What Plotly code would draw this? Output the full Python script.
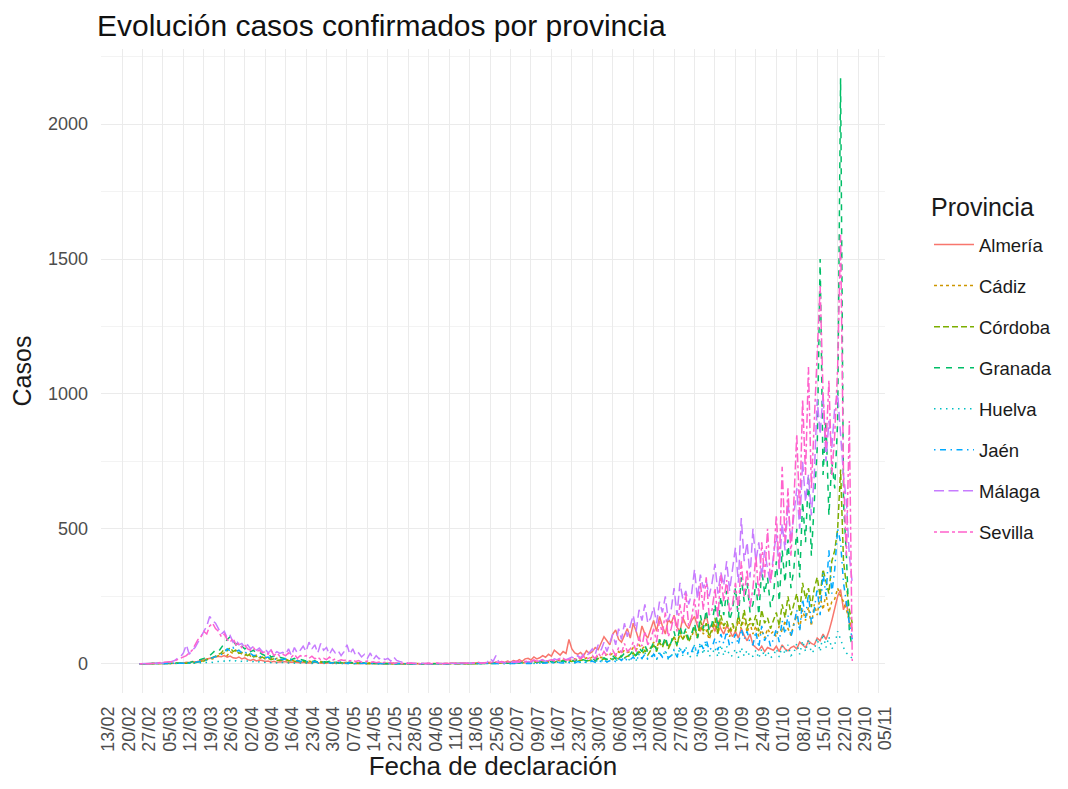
import datetime as dt
import plotly.graph_objects as go

# ---- data (daily confirmed cases, 26/02/2020 .. 27/10/2020) ----
start_date = "2020-02-26"
n_days = 245

provincias = ["Almería", "Cádiz", "Córdoba", "Granada", "Huelva", "Jaén", "Málaga", "Sevilla"]

almeria = [
    0, 0, 0, 0, 0, 0, 0,
    0, 0, 0, 1, 0, 2, 1,
    2, 3, 5, 4, 8, 6, 10,
    12, 15, 18, 20, 22, 25, 28,
    26, 30, 24, 28, 22, 20, 25,
    18, 22, 15, 12, 16, 10, 14,
    12, 8, 10, 6, 9, 5, 7,
    6, 8, 4, 6, 5, 3, 4,
    5, 3, 4, 2, 6, 3, 2,
    3, 2, 4, 1, 3, 2, 1,
    2, 1, 3, 2, 1, 0, 2,
    1, 0, 2, 1, 0, 1, 0,
    1, 0, 0, 1, 2, 0, 1,
    0, 1, 0, 0, 2, 1, 0,
    1, 0, 2, 0, 1, 0, 1,
    0, 1, 3, 1, 0, 2, 1,
    2, 1, 0, 3, 2, 1, 4,
    3, 5, 2, 6, 4, 8, 5,
    10, 6, 12, 8, 15, 9, 18,
    20, 14, 25, 18, 22, 30, 24,
    35, 28, 50, 40, 32, 45, 38,
    90, 55, 40, 35, 42, 30, 48,
    38, 45, 60, 52, 75, 100, 85,
    70, 110, 125, 90, 80, 105, 130,
    95, 150, 120, 85, 140, 110, 95,
    130, 160, 120, 175, 140, 110, 165,
    150, 180, 135, 120, 170, 145, 130,
    160, 175, 140, 120, 150, 180, 130,
    145, 120, 160, 130, 110, 140, 125,
    100, 120, 95, 130, 105, 85, 110,
    70, 60, 50, 65, 45, 60, 55,
    50, 65, 45, 70, 55, 48, 60,
    65, 55, 80, 70, 60, 85, 75,
    70, 95, 85, 110, 90, 120, 160,
    210, 250, 275, 200, 230, 150, 130,
]

cadiz = [
    0, 0, 0, 0, 0, 0, 0,
    0, 0, 0, 0, 1, 0, 1,
    1, 2, 2, 4, 3, 5, 6,
    8, 12, 15, 20, 18, 25, 30,
    35, 40, 30, 45, 38, 50, 42,
    35, 30, 40, 28, 25, 32, 22,
    20, 25, 18, 22, 15, 20, 16,
    14, 18, 12, 15, 10, 13, 9,
    12, 8, 10, 7, 9, 6, 8,
    7, 5, 8, 4, 6, 3, 5,
    4, 6, 3, 5, 2, 4, 3,
    3, 2, 4, 1, 2, 3, 1,
    2, 1, 0, 2, 1, 0, 1,
    0, 1, 1, 0, 2, 0, 1,
    1, 0, 1, 2, 0, 1, 0,
    0, 1, 0, 2, 1, 0, 1,
    1, 2, 0, 1, 3, 1, 2,
    2, 1, 3, 2, 4, 2, 3,
    3, 5, 2, 4, 6, 3, 5,
    5, 4, 8, 6, 10, 7, 9,
    8, 12, 10, 15, 9, 14, 11,
    15, 12, 18, 14, 20, 16, 22,
    18, 25, 20, 30, 22, 28, 35,
    30, 40, 28, 45, 38, 50, 42,
    45, 60, 50, 70, 55, 65, 48,
    60, 80, 55, 90, 70, 85, 65,
    80, 100, 75, 110, 90, 120, 85,
    100, 130, 95, 140, 110, 125, 90,
    120, 150, 110, 160, 130, 145, 100,
    140, 120, 160, 130, 170, 115, 150,
    110, 140, 100, 125, 95, 130, 110,
    120, 100, 140, 115, 160, 130, 105,
    150, 180, 130, 200, 160, 210, 140,
    220, 180, 250, 200, 260, 190, 230,
    240, 280, 250, 230, 200, 160, 120,
]

cordoba = [
    0, 0, 0, 0, 0, 0, 0,
    0, 0, 1, 0, 0, 1, 0,
    1, 1, 2, 3, 2, 4, 5,
    8, 10, 14, 18, 22, 28, 35,
    40, 55, 48, 60, 45, 52, 38,
    42, 35, 30, 38, 25, 28, 22,
    25, 18, 20, 15, 18, 12, 14,
    12, 15, 10, 12, 8, 10, 7,
    9, 6, 8, 5, 7, 4, 6,
    5, 4, 6, 3, 5, 2, 4,
    3, 2, 4, 2, 1, 3, 2,
    1, 2, 0, 1, 2, 0, 1,
    0, 1, 0, 1, 0, 0, 1,
    0, 0, 1, 0, 1, 0, 0,
    1, 0, 0, 1, 0, 2, 0,
    0, 1, 2, 0, 1, 0, 1,
    1, 0, 2, 1, 0, 3, 1,
    2, 1, 3, 2, 1, 4, 2,
    3, 2, 5, 3, 6, 4, 3,
    5, 4, 7, 5, 8, 6, 5,
    6, 9, 5, 10, 8, 12, 7,
    10, 8, 14, 9, 12, 15, 11,
    12, 16, 10, 20, 14, 18, 15,
    20, 15, 25, 18, 30, 22, 28,
    30, 40, 25, 45, 35, 50, 32,
    50, 70, 45, 80, 60, 90, 55,
    75, 100, 65, 120, 90, 110, 80,
    110, 140, 95, 160, 120, 150, 100,
    130, 170, 110, 180, 140, 160, 120,
    150, 120, 180, 140, 200, 130, 170,
    140, 180, 120, 200, 150, 170, 130,
    160, 190, 140, 220, 170, 250, 180,
    220, 260, 190, 300, 240, 280, 210,
    280, 320, 250, 350, 300, 260, 380,
    420, 500, 720, 380, 300, 200, 150,
]

granada = [
    0, 0, 0, 0, 0, 0, 0,
    0, 0, 0, 1, 0, 1, 2,
    2, 3, 5, 4, 8, 10, 12,
    15, 20, 25, 30, 40, 50, 45,
    60, 75, 90, 100, 85, 70, 80,
    65, 55, 60, 45, 50, 38, 42,
    35, 30, 38, 25, 28, 20, 24,
    22, 18, 25, 15, 20, 12, 16,
    14, 10, 12, 8, 11, 6, 9,
    8, 6, 9, 5, 7, 4, 6,
    5, 4, 6, 3, 4, 2, 3,
    3, 2, 1, 2, 1, 0, 1,
    1, 0, 1, 0, 0, 1, 0,
    0, 1, 0, 0, 1, 0, 0,
    0, 0, 1, 0, 0, 1, 0,
    1, 0, 0, 1, 0, 0, 1,
    0, 1, 0, 2, 1, 0, 1,
    1, 2, 0, 1, 3, 1, 2,
    2, 3, 1, 4, 2, 5, 3,
    4, 3, 6, 4, 8, 5, 7,
    6, 9, 5, 12, 8, 10, 7,
    10, 14, 8, 18, 12, 15, 10,
    15, 20, 12, 25, 18, 22, 16,
    22, 30, 18, 35, 25, 40, 28,
    35, 50, 30, 60, 45, 70, 40,
    55, 80, 50, 90, 65, 100, 60,
    80, 120, 70, 140, 100, 130, 90,
    110, 150, 95, 180, 130, 200, 120,
    150, 220, 130, 250, 180, 270, 160,
    200, 280, 170, 320, 230, 300, 190,
    220, 300, 180, 350, 260, 320, 210,
    250, 380, 230, 420, 300, 460, 280,
    350, 500, 320, 600, 450, 700, 400,
    600, 800, 1500, 700, 900, 550, 750,
    650, 900, 2170, 600, 400, 120, 60,
]

huelva = [
    0, 0, 0, 0, 0, 0, 0,
    0, 0, 0, 0, 0, 1, 0,
    0, 1, 1, 2, 1, 2, 3,
    3, 4, 5, 6, 5, 8, 7,
    8, 10, 7, 12, 9, 11, 8,
    9, 7, 10, 6, 8, 5, 7,
    6, 5, 7, 4, 6, 3, 5,
    4, 5, 3, 4, 2, 3, 2,
    3, 2, 3, 1, 2, 1, 2,
    1, 2, 1, 0, 1, 1, 0,
    1, 0, 1, 0, 0, 1, 0,
    0, 0, 1, 0, 0, 0, 1,
    0, 0, 0, 0, 0, 0, 0,
    0, 0, 0, 1, 0, 0, 0,
    0, 1, 0, 0, 0, 1, 0,
    0, 0, 1, 0, 0, 0, 1,
    0, 1, 0, 1, 0, 0, 1,
    1, 0, 2, 1, 0, 1, 2,
    1, 2, 1, 3, 2, 1, 2,
    2, 3, 1, 4, 2, 3, 5,
    3, 5, 2, 6, 4, 7, 3,
    5, 8, 4, 10, 6, 9, 5,
    8, 12, 6, 15, 10, 14, 7,
    12, 18, 8, 22, 14, 25, 10,
    18, 30, 12, 35, 20, 40, 15,
    22, 40, 15, 45, 25, 50, 18,
    25, 55, 20, 60, 30, 65, 22,
    30, 70, 25, 75, 35, 80, 28,
    35, 60, 25, 70, 30, 65, 28,
    30, 55, 22, 60, 28, 50, 25,
    28, 50, 20, 55, 25, 45, 22,
    30, 55, 25, 65, 35, 70, 30,
    40, 75, 35, 85, 45, 90, 40,
    50, 95, 45, 110, 60, 100, 55,
    70, 120, 90, 60, 40, 30, 20,
]

jaen = [
    0, 0, 0, 0, 0, 0, 0,
    0, 0, 0, 0, 1, 0, 1,
    1, 2, 2, 3, 4, 5, 6,
    8, 10, 14, 18, 20, 25, 30,
    35, 40, 55, 48, 60, 45, 50,
    40, 45, 35, 38, 30, 32, 25,
    28, 22, 25, 18, 20, 15, 17,
    15, 18, 12, 14, 10, 12, 8,
    10, 7, 9, 6, 8, 5, 7,
    6, 4, 5, 3, 5, 2, 4,
    3, 2, 4, 2, 1, 3, 1,
    2, 1, 0, 1, 1, 0, 1,
    0, 1, 0, 0, 1, 0, 0,
    0, 0, 1, 0, 0, 0, 1,
    0, 1, 0, 0, 1, 0, 0,
    0, 0, 1, 0, 0, 1, 0,
    1, 0, 0, 1, 0, 1, 0,
    0, 1, 1, 0, 2, 1, 0,
    1, 0, 2, 1, 1, 3, 1,
    2, 1, 3, 2, 4, 2, 3,
    3, 5, 2, 6, 4, 3, 5,
    4, 6, 3, 8, 5, 7, 4,
    6, 10, 5, 12, 8, 14, 7,
    10, 15, 8, 20, 12, 25, 10,
    15, 25, 12, 30, 20, 35, 18,
    20, 35, 15, 40, 25, 45, 22,
    30, 50, 25, 60, 40, 55, 35,
    45, 70, 35, 80, 55, 90, 50,
    60, 95, 50, 110, 75, 120, 65,
    80, 110, 70, 130, 90, 120, 75,
    70, 120, 60, 140, 85, 110, 65,
    90, 130, 80, 160, 110, 180, 100,
    140, 200, 120, 240, 170, 260, 150,
    200, 280, 180, 340, 250, 420, 260,
    350, 500, 450, 300, 220, 150, 90,
]

malaga = [
    0, 0, 0, 0, 1, 0, 1,
    2, 3, 5, 4, 8, 12, 20,
    25, 40, 70, 35, 50, 60, 80,
    100, 120, 140, 175, 160, 150, 130,
    110, 120, 95, 105, 80, 90, 70,
    75, 60, 70, 55, 65, 50, 58,
    45, 55, 40, 50, 35, 45, 38,
    42, 35, 55, 30, 60, 40, 50,
    65, 45, 80, 55, 70, 40, 75,
    50, 60, 35, 55, 40, 48, 30,
    45, 70, 35, 55, 30, 40, 25,
    35, 20, 40, 15, 30, 18, 25,
    15, 20, 10, 25, 12, 8, 5,
    4, 3, 2, 3, 1, 2, 1,
    1, 2, 0, 1, 2, 1, 0,
    1, 0, 2, 1, 0, 1, 2,
    2, 1, 3, 1, 2, 4, 2,
    5, 20, 8, 30, 6, 4, 3,
    5, 3, 8, 4, 6, 10, 5,
    8, 6, 12, 7, 10, 15, 9,
    12, 10, 18, 14, 20, 16, 15,
    20, 25, 18, 30, 22, 35, 28,
    40, 55, 35, 70, 50, 80, 45,
    80, 110, 70, 130, 90, 150, 100,
    140, 180, 120, 200, 160, 220, 150,
    170, 210, 150, 230, 190, 250, 160,
    200, 280, 180, 300, 240, 270, 220,
    260, 350, 240, 330, 280, 310, 250,
    300, 370, 260, 340, 290, 380, 270,
    350, 430, 300, 540, 380, 450, 320,
    500, 380, 450, 320, 420, 350, 300,
    400, 480, 350, 520, 420, 600, 450,
    550, 650, 500, 750, 600, 700, 550,
    700, 980, 850, 1000, 750, 900, 800,
    950, 1000, 850, 700, 600, 400, 300,
]

sevilla = [
    0, 1, 0, 0, 1, 2, 1,
    2, 3, 4, 6, 8, 10, 15,
    20, 25, 30, 40, 50, 70, 90,
    100, 120, 110, 140, 150, 130, 120,
    100, 110, 90, 80, 95, 70, 75,
    60, 70, 55, 50, 60, 45, 50,
    40, 45, 35, 50, 30, 40, 28,
    35, 30, 40, 25, 35, 20, 30,
    25, 30, 20, 28, 18, 25, 15,
    20, 15, 25, 12, 18, 10, 15,
    12, 15, 10, 14, 8, 12, 6,
    8, 10, 5, 7, 4, 6, 3,
    5, 3, 4, 2, 3, 1, 2,
    2, 1, 3, 1, 2, 0, 1,
    1, 2, 0, 1, 3, 1, 2,
    2, 1, 3, 2, 1, 3, 2,
    3, 2, 4, 3, 5, 2, 4,
    4, 3, 5, 6, 4, 8, 5,
    6, 8, 5, 10, 7, 12, 8,
    10, 8, 14, 9, 15, 12, 10,
    12, 15, 10, 18, 14, 20, 13,
    15, 20, 14, 25, 18, 28, 16,
    22, 30, 18, 40, 25, 45, 28,
    35, 50, 30, 60, 40, 75, 45,
    55, 80, 45, 100, 65, 120, 70,
    90, 130, 80, 160, 110, 190, 100,
    130, 180, 120, 220, 150, 260, 140,
    170, 240, 150, 300, 200, 320, 180,
    200, 280, 170, 330, 230, 310, 190,
    220, 300, 200, 380, 250, 350, 210,
    280, 400, 250, 450, 320, 500, 300,
    380, 550, 350, 730, 450, 650, 400,
    600, 850, 550, 980, 700, 1100, 650,
    900, 1200, 1400, 1000, 800, 1050, 700,
    850, 1100, 1590, 700, 400, 900, 10,
]

series = [almeria, cadiz, cordoba, granada, huelva, jaen, malaga, sevilla]

# ---- styles (ggplot2 default hue palette + linetypes) ----
colors = ["#F8766D", "#CD9600", "#7CAE00", "#00BE67", "#00BFC4", "#00A9FF", "#C77CFF", "#FF61CC"]
dashes = ["solid", "3px,3px", "6px,3px", "6px,6px", "1.5px,4.5px",
          "1.5px,4.5px,6px,4.5px", "10px,4.5px", "3px,3px,9px,3px"]

d0 = dt.date.fromisoformat(start_date)
dates = [(d0 + dt.timedelta(days=i)).isoformat() for i in range(n_days)]

fig = go.Figure()
for name, vals, col, dash in zip(provincias, series, colors, dashes):
    fig.add_trace(go.Scatter(
        x=dates, y=vals, mode="lines", name=name, legendgroup=name,
        line=dict(color=col, width=1.5, dash=dash),
    ))

# the page body adds an 8px margin; figure sized so that it fills 1068x789
W, H = 1052, 773
ML, MR, MT, MB = 93, 175, 41, 88
PW, PH = W - ML - MR, H - MT - MB
font_family = "Liberation Sans, Arial, sans-serif"
fig.update_layout(
    width=W, height=H,
    paper_bgcolor="white", plot_bgcolor="white",
    margin=dict(l=ML, r=MR, t=MT, b=MB, autoexpand=False),
    font=dict(family=font_family, color="#1a1a1a"),
    title=dict(text="Evolución casos confirmados por provincia",
               x=89 / W, xanchor="left", y=1 - 17 / H, yanchor="middle",
               font=dict(size=30, color="#111111")),
    legend=dict(
        x=(921 - ML) / PW, xanchor="left", y=1 - (218 - MT) / PH, yanchor="top",
        font=dict(size=18.5, color="#1a1a1a"),
        tracegroupgap=14, itemwidth=40, bgcolor="rgba(0,0,0,0)",
    ),
    showlegend=True,
    annotations=[dict(
        text="Provincia", xref="paper", yref="paper",
        x=(921 - ML) / PW, y=1 - (199 - MT) / PH, xanchor="left", yanchor="middle",
        showarrow=False, font=dict(size=25, color="#1a1a1a"),
    )],
)

fig.update_xaxes(
    range=["2020-02-12 19:00", "2020-11-07 05:00"],
    tick0="2020-02-13", dtick=7 * 86400000, tickformat="%d/%m",
    tickangle=-90, tickfont=dict(size=18, color="#4D4D4D"),
    ticklabelstandoff=9, ticklabelshift=7, automargin=False,
    showgrid=True, gridcolor="#EBEBEB", gridwidth=1.2,
    zeroline=False, showline=False, ticks="",
    title=dict(text="Fecha de declaración", font=dict(size=26, color="#1a1a1a"), standoff=14),
)
fig.update_yaxes(
    range=[-108.5, 2278.5], tick0=0, dtick=500,
    tickfont=dict(size=18, color="#4D4D4D"),
    ticklabelstandoff=12, automargin=False,
    showgrid=True, gridcolor="#EBEBEB", gridwidth=1.2,
    minor=dict(dtick=250, showgrid=True, gridcolor="#F3F3F3", gridwidth=0.8),
    zeroline=False, showline=False, ticks="",
    title=dict(text="Casos", font=dict(size=25, color="#1a1a1a"), standoff=12),
)

fig.write_html("out.html")
